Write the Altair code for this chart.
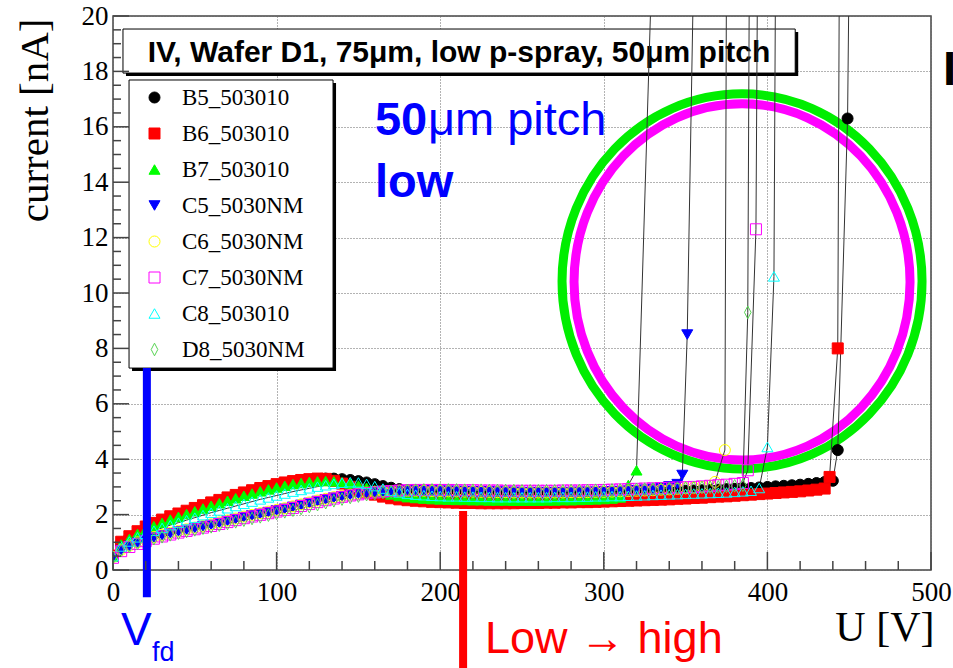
import altair as alt
import pandas as pd

# ---------------------------------------------------------------- samples
SERIES = ["B5_503010", "B6_503010", "B7_503010", "C5_5030NM",
          "C6_5030NM", "C7_5030NM", "C8_503010", "D8_5030NM"]
COLORS = ["#000000", "#ff0000", "#00ff00", "#0000ff",
          "#ffff00", "#ff00ff", "#00ffff", "#59d454"]
FILLS = ["#000000", "#ff0000", "#00ff00", "#0000ff",
         "transparent", "transparent", "transparent", "transparent"]
DIAMOND = "M0,-1.15L0.6,0L0,1.15L-0.6,0Z"
SHAPES = ["circle", "square", "triangle-up", "triangle-down",
          "circle", "square", "triangle-up", DIAMOND]

# bias voltage scan [V]
SCAN_U = [0, 5, 10, 15, 20, 25, 30, 35, 40, 45, 50, 55, 60, 65, 70, 75, 80, 85, 90, 95,
          100, 105, 110, 115, 120, 125, 130, 135, 140, 145, 150, 155, 160, 165, 170, 175,
          180, 185, 190, 195, 200, 205, 210, 215, 220, 225, 230, 235, 240, 245, 250, 255,
          260, 265, 270, 275, 280, 285, 290, 295, 300, 305, 310, 315, 320, 325, 330, 335,
          340, 345, 350, 355, 360, 365, 370, 375, 380, 385, 390, 395, 400, 405, 410, 415,
          420, 425, 430, 435, 440]

# leakage current [nA] along the scan, then the points of the breakdown
B5_I = [0.50, 0.98, 1.18, 1.36, 1.53, 1.66, 1.78, 1.90, 2.00, 2.10, 2.20, 2.30, 2.40, 2.49,
        2.58, 2.67, 2.76, 2.84, 2.92, 2.99, 3.06, 3.12, 3.17, 3.21, 3.25, 3.28, 3.30, 3.30,
        3.28, 3.25, 3.21, 3.16, 3.10, 3.03, 2.97, 2.92, 2.88, 2.85, 2.83, 2.81, 2.80,
        2.79, 2.78, 2.78, 2.77, 2.77, 2.76, 2.76, 2.76, 2.75, 2.75, 2.75, 2.75, 2.75, 2.75,
        2.75, 2.76, 2.76, 2.76, 2.77, 2.77,
        2.78, 2.78, 2.79, 2.80, 2.81, 2.82, 2.83, 2.84, 2.85, 2.86, 2.87, 2.88, 2.89, 2.90,
        2.92, 2.93, 2.95, 2.96, 2.98, 3.00, 3.02, 3.04, 3.06, 3.08, 3.11, 3.14, 3.18, 3.22]
B5_TAIL_U = [443, 449, 450]
B5_TAIL_I = [4.33, 16.3, 22.0]

B6_I = [0.52, 1.02, 1.22, 1.40, 1.57, 1.70, 1.82, 1.94, 2.04, 2.14, 2.24, 2.34, 2.44, 2.53,
        2.62, 2.71, 2.80, 2.88, 2.96, 3.03, 3.10, 3.16, 3.21, 3.25, 3.28, 3.30, 3.29, 3.22,
        3.12, 3.00, 2.90, 2.80, 2.72, 2.65, 2.59, 2.55, 2.52, 2.50, 2.48, 2.46, 2.45,
        2.44, 2.43, 2.42, 2.42, 2.41, 2.41, 2.41, 2.41, 2.41, 2.42, 2.42, 2.42, 2.43, 2.43,
        2.44, 2.44, 2.45, 2.45, 2.46, 2.47,
        2.48, 2.49, 2.50, 2.51, 2.52, 2.53, 2.54, 2.55, 2.57, 2.58, 2.60, 2.61, 2.63, 2.65,
        2.66, 2.68, 2.70, 2.72, 2.74, 2.76, 2.78, 2.80, 2.82, 2.84, 2.87, 2.90, 2.94]
B6_TAIL_U = [438, 443, 444]
B6_TAIL_I = [3.36, 8.0, 22.0]

B7_I = [0.48, 0.92, 1.12, 1.30, 1.46, 1.58, 1.70, 1.82, 1.92, 2.02, 2.12, 2.22, 2.32, 2.41,
        2.50, 2.59, 2.68, 2.76, 2.84, 2.91, 2.98, 3.04, 3.10, 3.14, 3.18, 3.20, 3.21, 3.20,
        3.17, 3.12, 3.05, 2.97, 2.88, 2.80, 2.73, 2.67, 2.63, 2.60, 2.58, 2.56, 2.55,
        2.54, 2.53, 2.53, 2.52, 2.52, 2.51, 2.51, 2.51, 2.50, 2.50, 2.50, 2.50, 2.51, 2.51,
        2.52, 2.52, 2.53, 2.54, 2.55, 2.56,
        2.58, 2.62, 3.07, 3.60]
B7_TAIL_U = [329]
B7_TAIL_I = [21.0]

C5_I = [0.46, 0.72, 0.87, 0.98, 1.08, 1.17, 1.25, 1.32, 1.39, 1.45, 1.51, 1.57, 1.63, 1.70,
        1.77, 1.84, 1.91, 1.97, 2.03, 2.09, 2.15, 2.21, 2.28, 2.35, 2.42, 2.49, 2.55, 2.61,
        2.66, 2.71, 2.75, 2.78, 2.81, 2.83, 2.85, 2.86, 2.87, 2.87, 2.87, 2.87, 2.86,
        2.86, 2.85, 2.85, 2.84, 2.84, 2.83, 2.83, 2.82, 2.82, 2.81, 2.81, 2.81, 2.81, 2.81,
        2.81, 2.81, 2.82, 2.82, 2.82, 2.83,
        2.84, 2.85, 2.86, 2.88, 2.90, 2.93, 2.97, 3.02, 3.10]
C5_TAIL_U = [348, 351, 355]
C5_TAIL_I = [3.43, 8.5, 22.0]

C6_I = [0.47, 0.73, 0.88, 1.00, 1.10, 1.19, 1.27, 1.34, 1.41, 1.47, 1.53, 1.59, 1.65, 1.72,
        1.79, 1.86, 1.93, 1.99, 2.05, 2.11, 2.17, 2.23, 2.30, 2.37, 2.44, 2.51, 2.57, 2.63,
        2.68, 2.72, 2.76, 2.79, 2.82, 2.84, 2.85, 2.86, 2.86, 2.86, 2.86, 2.85, 2.85,
        2.84, 2.84, 2.83, 2.83, 2.82, 2.82, 2.81, 2.81, 2.80, 2.80, 2.80, 2.80, 2.80, 2.80,
        2.80, 2.81, 2.81, 2.81, 2.82, 2.82,
        2.83, 2.84, 2.85, 2.86, 2.87, 2.88, 2.90, 2.91, 2.93, 2.95, 2.97, 3.00, 3.04]
C6_TAIL_U = [368, 374, 375]
C6_TAIL_I = [3.18, 4.33, 22.0]

C7_I = [0.44, 0.68, 0.83, 0.94, 1.04, 1.13, 1.21, 1.28, 1.35, 1.41, 1.47, 1.53, 1.59, 1.66,
        1.73, 1.80, 1.87, 1.93, 1.99, 2.05, 2.11, 2.17, 2.24, 2.31, 2.38, 2.45, 2.52, 2.58,
        2.64, 2.69, 2.73, 2.77, 2.80, 2.83, 2.85, 2.87, 2.88, 2.89, 2.89, 2.89, 2.89,
        2.89, 2.88, 2.88, 2.88, 2.87, 2.87, 2.87, 2.86, 2.86, 2.86, 2.86, 2.86, 2.86, 2.86,
        2.87, 2.87, 2.87, 2.88, 2.88, 2.89,
        2.90, 2.91, 2.92, 2.93, 2.94, 2.95, 2.96, 2.97, 2.98, 2.99, 3.00, 3.02, 3.04, 3.06,
        3.08, 3.11, 3.14]
C7_TAIL_U = [388, 393, 394]
C7_TAIL_I = [3.60, 12.3, 22.0]

C8_I = [0.50, 0.85, 1.03, 1.18, 1.31, 1.42, 1.52, 1.62, 1.71, 1.80, 1.89, 1.98, 2.07, 2.15,
        2.23, 2.31, 2.39, 2.47, 2.55, 2.62, 2.69, 2.76, 2.83, 2.89, 2.95, 3.01, 3.06, 3.11,
        3.15, 3.17, 3.16, 3.11, 3.03, 2.94, 2.86, 2.80, 2.75, 2.72, 2.70, 2.68, 2.67,
        2.66, 2.66, 2.65, 2.65, 2.64, 2.64, 2.63, 2.63, 2.63, 2.63, 2.63, 2.63, 2.63, 2.64,
        2.64, 2.64, 2.65, 2.65, 2.66, 2.66,
        2.67, 2.67, 2.68, 2.69, 2.70, 2.71, 2.72, 2.73, 2.74, 2.75, 2.76, 2.77, 2.78, 2.79,
        2.80, 2.82, 2.84, 2.86, 2.96, 4.44]
C8_TAIL_U = [404, 405]
C8_TAIL_I = [10.6, 22.0]

D8_I = [0.45, 0.70, 0.85, 0.96, 1.05, 1.13, 1.20, 1.27, 1.33, 1.39, 1.45, 1.51, 1.56, 1.62,
        1.68, 1.74, 1.80, 1.86, 1.92, 1.98, 2.04, 2.10, 2.16, 2.22, 2.29, 2.36, 2.43, 2.50,
        2.56, 2.62, 2.67, 2.72, 2.76, 2.80, 2.83, 2.85, 2.87, 2.88, 2.89, 2.89, 2.89,
        2.89, 2.89, 2.88, 2.88, 2.88, 2.87, 2.87, 2.87, 2.87, 2.86, 2.86, 2.86, 2.86, 2.86,
        2.86, 2.87, 2.87, 2.87, 2.88, 2.88,
        2.89, 2.89, 2.90, 2.91, 2.92, 2.92, 2.93, 2.94, 2.95, 2.96, 2.97, 2.98, 2.99, 3.00,
        3.02, 3.04, 3.06]
D8_TAIL_U = [388, 389]
D8_TAIL_I = [9.3, 22.0]

SAMPLES = [
    ("B5_503010", B5_I, B5_TAIL_U, B5_TAIL_I),
    ("B6_503010", B6_I, B6_TAIL_U, B6_TAIL_I),
    ("B7_503010", B7_I, B7_TAIL_U, B7_TAIL_I),
    ("C5_5030NM", C5_I, C5_TAIL_U, C5_TAIL_I),
    ("C6_5030NM", C6_I, C6_TAIL_U, C6_TAIL_I),
    ("C7_5030NM", C7_I, C7_TAIL_U, C7_TAIL_I),
    ("C8_503010", C8_I, C8_TAIL_U, C8_TAIL_I),
    ("D8_5030NM", D8_I, D8_TAIL_U, D8_TAIL_I),
]

# axis labels and tick positions
U_LABELS = [0, 100, 200, 300, 400, 500]
U_MINOR = [20, 40, 60, 80, 120, 140, 160, 180, 220, 240, 260, 280,
           320, 340, 360, 380, 420, 440, 460, 480]
I_LABELS = [0, 2, 4, 6, 8, 10, 12, 14, 16, 18, 20]
I_MINOR = [0.5, 1, 1.5, 2.5, 3, 3.5, 4.5, 5, 5.5, 6.5, 7, 7.5, 8.5, 9, 9.5,
           10.5, 11, 11.5, 12.5, 13, 13.5, 14.5, 15, 15.5, 16.5, 17, 17.5,
           18.5, 19, 19.5]

# annotation anchors, in axis units
TITLE = "IV, Wafer D1, 75\u03bcm, low p-spray, 50\u03bcm pitch"
TITLE_BOX = {"u": 6.1, "u2": 417.0, "i": 19.53, "i2": 17.94}
TITLE_AT = {"u": 211.5, "i": 18.34}
LEGEND_BOX = {"u": 9.8, "u2": 134.5, "i": 17.69, "i2": 7.29}
RING_U = [384.5, 384.5]
RING_I = [10.42, 10.40]
VFD_BAR = {"u": 20.7, "i": 7.29, "i2": -0.98}
LH_BAR = {"u": 214.0, "i": 2.13, "i2": -3.8}

# ---------------------------------------------------------------- table
rows = []
for k, (name, cur, tail_u, tail_i) in enumerate(SAMPLES):
    us = SCAN_U[:len(cur)] + tail_u
    cs = cur + tail_i
    assert len(us) == len(cs)
    for j, (u, c) in enumerate(zip(us, cs)):
        rows.append({"series": name, "u": u, "i": c, "k": k, "j": j})
iv = pd.DataFrame(rows)

W, H = 818, 554
SERIF = "Liberation Serif"
SANS = "Liberation Sans"

x_axis = alt.Axis(values=U_LABELS, title="U [V]", ticks=False, domain=False,
                  grid=True, gridDash=[1, 2], gridColor="#666", gridWidth=1,
                  labelFont=SERIF, labelFontSize=27, labelColor="black",
                  labelPadding=9, labelFlush=False, labelOverlap=False,
                  titleFont=SERIF, titleFontSize=42, titleFontWeight="normal",
                  titleColor="black", titleX=821, titleY=70, titleAlign="right",
                  titleBaseline="alphabetic", titleAngle=0)
y_axis = alt.Axis(values=I_LABELS, title="current [nA]", ticks=False, domain=False,
                  grid=True, gridDash=[1, 2], gridColor="#666", gridWidth=1,
                  labelFont=SERIF, labelFontSize=27, labelColor="black",
                  labelPadding=5, labelFlush=False, labelOverlap=False,
                  titleFont=SERIF, titleFontSize=41, titleFontWeight="normal",
                  titleColor="black", titleX=-66, titleY=2, titleAlign="right",
                  titleBaseline="alphabetic", titleAngle=270)

XS = alt.Scale(domain=[0, 500], nice=False, zero=False)
YS = alt.Scale(domain=[0, 20], nice=False, zero=False)


def X(field="u"):
    return alt.X(f"{field}:Q", scale=XS, axis=x_axis)


def Y(field="i"):
    return alt.Y(f"{field}:Q", scale=YS, axis=y_axis)


def one(d):
    return alt.Data(values=[d])


# title pave with its shadow
title_shadow = alt.Chart(one(TITLE_BOX)).mark_rect(
    color="black", xOffset=3, x2Offset=3, yOffset=3, y2Offset=3
).encode(x=X(), x2="u2:Q", y=Y(), y2="i2:Q")
title_box = alt.Chart(one(TITLE_BOX)).mark_rect(
    fill="white", stroke="black", strokeWidth=1
).encode(x=X(), x2="u2:Q", y=Y(), y2="i2:Q")
title_text = alt.Chart(one({**TITLE_AT, "t": TITLE})).mark_text(
    font=SANS, fontSize=30, fontWeight="bold", color="black",
    align="center", baseline="alphabetic"
).encode(x=X(), y=Y(), text="t:N")

# legend pave with its shadow
legend_shadow = alt.Chart(one(LEGEND_BOX)).mark_rect(
    color="black", xOffset=3, x2Offset=3, yOffset=3, y2Offset=3
).encode(x=X(), x2="u2:Q", y=Y(), y2="i2:Q")
legend_box = alt.Chart(one(LEGEND_BOX)).mark_rect(
    fill="white", stroke="black", strokeWidth=1
).encode(x=X(), x2="u2:Q", y=Y(), y2="i2:Q")

# highlighted breakdown region
ring_df = pd.DataFrame({"u": RING_U, "i": RING_I})
green_ring = alt.Chart(ring_df.iloc[[0]]).mark_point(
    shape="M-1,0A1,1.042,0,1,0,1,0A1,1.042,0,1,0,-1,0Z", size=129600,
    filled=False, stroke="#00ee00", strokeWidth=9, opacity=1
).encode(x=X(), y=Y())
magenta_ring = alt.Chart(ring_df.iloc[[1]]).mark_point(
    shape="M-1,0A1,1.06,0,1,0,1,0A1,1.06,0,1,0,-1,0Z", size=112896,
    filled=False, stroke="#ff00ff", strokeWidth=9, opacity=1
).encode(x=X(), y=Y())

# IV curves
lines = alt.Chart(iv).mark_line(color="#333333", strokeWidth=1, clip=True).encode(
    x=X(), y=Y(), detail="series:N", order="j:Q"
)
LEG = alt.Legend(title=None, orient="none", legendX=30, legendY=70, zindex=1)
points = alt.Chart(iv).mark_point(opacity=1, strokeWidth=1, size=121, clip=True).encode(
    x=X(), y=Y(),
    shape=alt.Shape("series:N", scale=alt.Scale(domain=SERIES, range=SHAPES), legend=LEG),
    stroke=alt.Stroke("series:N", scale=alt.Scale(domain=SERIES, range=COLORS), legend=LEG),
    fill=alt.Fill("series:N", scale=alt.Scale(domain=SERIES, range=FILLS), legend=LEG),
)

# markers for full depletion and the low -> high transition
vfd_bar = alt.Chart(one(VFD_BAR)).mark_rule(color="#0000ff", strokeWidth=8).encode(
    x=X(), y=Y(), y2="i2:Q")
lh_bar = alt.Chart(one(LH_BAR)).mark_rule(color="#ff0000", strokeWidth=8).encode(
    x=X(), y=Y(), y2="i2:Q")


def label(u, i, t, size, color, weight="normal", dx=0, align="left", font=SANS):
    return alt.Chart(one({"u": u, "i": i, "t": t})).mark_text(
        font=font, fontSize=size, fontWeight=weight, color=color,
        align=align, baseline="alphabetic", dx=dx
    ).encode(x=X(), y=Y(), text="t:N")


texts = [
    label(160.1, 15.70, "50", 47, "#0000ff", "bold"),
    label(160.1, 15.70, "\u03bcm pitch", 47, "#0000ff", dx=53),
    label(160.1, 13.47, "low", 47, "#0000ff", "bold"),
    label(4.9, -2.71, "V", 46, "#0000ff"),
    label(23.8, -3.30, "fd", 27, "#0000ff"),
    label(227.4, -3.0, "Low \u2192 high", 45, "#ff0000"),
    label(507.3, 17.5, "I", 48, "black", "bold"),
]

# inward ticks along the frame
tick_u_major = alt.Chart(pd.DataFrame({"u": U_LABELS})).mark_rule(
    color="#444", strokeWidth=1.5).encode(x=X(), y=alt.value(H), y2=alt.value(H - 18))
tick_u_minor = alt.Chart(pd.DataFrame({"u": U_MINOR})).mark_rule(
    color="#444", strokeWidth=1.5).encode(x=X(), y=alt.value(H), y2=alt.value(H - 9))
tick_i_major = alt.Chart(pd.DataFrame({"i": I_LABELS})).mark_rule(
    color="#444", strokeWidth=1.5).encode(y=Y(), x=alt.value(0), x2=alt.value(16))
tick_i_minor = alt.Chart(pd.DataFrame({"i": I_MINOR})).mark_rule(
    color="#444", strokeWidth=1.5).encode(y=Y(), x=alt.value(0), x2=alt.value(8))

chart = alt.layer(
    title_shadow, title_box, title_text,
    legend_shadow, legend_box,
    green_ring, magenta_ring,
    lines, points,
    vfd_bar, lh_bar,
    *texts,
    tick_u_major, tick_u_minor, tick_i_major, tick_i_minor,
).properties(
    width=W, height=H,
    padding={"left": 113, "top": 16, "right": 22, "bottom": 98},
    autosize=alt.AutoSizeParams(type="none"),
    background="white",
).configure_view(
    stroke="#444", strokeWidth=1.5
).configure_legend(
    labelFont=SERIF, labelFontSize=23, labelColor="black",
    symbolStrokeWidth=1, symbolSize=121, padding=0, rowPadding=12,
    labelOffset=16, symbolOffset=0, symbolOpacity=1, labelLimit=400,
)

chart.save("out.html", embed_options={"renderer": "svg", "actions": False})
